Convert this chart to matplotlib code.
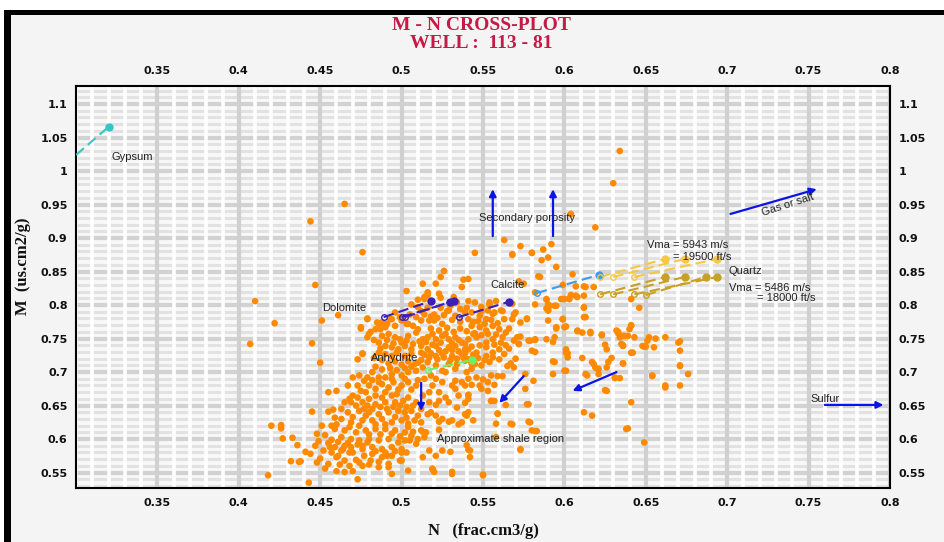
import matplotlib
matplotlib.use('Agg')
import matplotlib.pyplot as plt
from matplotlib.patches import Rectangle
import numpy as np

# ==> DATA: well log points (N, M)
nm_points = [
    (0.465, 0.951), (0.444, 0.925), (0.476, 0.879), (0.447, 0.830), (0.410, 0.806),
    (0.503, 0.821), (0.513, 0.832), (0.521, 0.832), (0.524, 0.842), (0.526, 0.851),
    (0.538, 0.838), (0.541, 0.839), (0.537, 0.827), (0.516, 0.819), (0.523, 0.817),
    (0.514, 0.812), (0.510, 0.808), (0.532, 0.812),
    (0.634, 1.030), (0.630, 0.982), (0.604, 0.936), (0.619, 0.916), (0.563, 0.897),
    (0.573, 0.888), (0.545, 0.878), (0.568, 0.875), (0.580, 0.878), (0.587, 0.883),
    (0.592, 0.891), (0.586, 0.867), (0.590, 0.871), (0.595, 0.857), (0.584, 0.843),
    (0.572, 0.835), (0.575, 0.832), (0.605, 0.846), (0.599, 0.830), (0.607, 0.828),
    (0.612, 0.828), (0.604, 0.815), (0.607, 0.814), (0.603, 0.810), (0.598, 0.809),
    (0.595, 0.799), (0.590, 0.801), (0.589, 0.808), (0.582, 0.801), (0.568, 0.802),
    (0.558, 0.806), (0.554, 0.804), (0.641, 0.809), (0.646, 0.796), (0.589, 0.795),
    (0.422, 0.773), (0.407, 0.742), (0.445, 0.743), (0.451, 0.777), (0.461, 0.785),
    (0.450, 0.714), (0.445, 0.641), (0.420, 0.620), (0.426, 0.621), (0.426, 0.616),
    (0.427, 0.601), (0.433, 0.602), (0.436, 0.591), (0.441, 0.581), (0.444, 0.578),
    (0.432, 0.567), (0.438, 0.567), (0.418, 0.546), (0.443, 0.535), (0.453, 0.556),
    (0.450, 0.571), (0.460, 0.573), (0.460, 0.552), (0.465, 0.551), (0.470, 0.552),
    (0.473, 0.540), (0.476, 0.560), (0.452, 0.583), (0.456, 0.588), (0.448, 0.608),
    (0.453, 0.606), (0.451, 0.620), (0.457, 0.620), (0.459, 0.632), (0.455, 0.641),
    (0.458, 0.644), (0.457, 0.599), (0.465, 0.590), (0.468, 0.580), (0.472, 0.569),
    (0.476, 0.585), (0.481, 0.568), (0.486, 0.558), (0.491, 0.575), (0.492, 0.563),
    (0.499, 0.568), (0.494, 0.548), (0.500, 0.580), (0.504, 0.553), (0.519, 0.556),
    (0.517, 0.583), (0.530, 0.581), (0.531, 0.548), (0.540, 0.591), (0.523, 0.614),
    (0.529, 0.626), (0.535, 0.622), (0.523, 0.626), (0.540, 0.635), (0.513, 0.611),
    (0.507, 0.611), (0.504, 0.618), (0.510, 0.635), (0.518, 0.640), (0.521, 0.651),
    (0.529, 0.655), (0.534, 0.647), (0.539, 0.654), (0.541, 0.666), (0.533, 0.675),
    (0.523, 0.670), (0.519, 0.680), (0.533, 0.687), (0.539, 0.680), (0.527, 0.700),
    (0.533, 0.705),
    (0.479, 0.779), (0.486, 0.772), (0.488, 0.774), (0.490, 0.767), (0.494, 0.779),
    (0.496, 0.769), (0.500, 0.777), (0.504, 0.772), (0.510, 0.764), (0.512, 0.777),
    (0.517, 0.777), (0.520, 0.777), (0.525, 0.772), (0.529, 0.792), (0.533, 0.784),
    (0.539, 0.789), (0.541, 0.779), (0.475, 0.765), (0.481, 0.760), (0.484, 0.764),
    (0.479, 0.752), (0.488, 0.754), (0.492, 0.757), (0.496, 0.752), (0.500, 0.744),
    (0.504, 0.754), (0.509, 0.759), (0.513, 0.749), (0.516, 0.752), (0.521, 0.749),
    (0.525, 0.754), (0.529, 0.749), (0.533, 0.752), (0.537, 0.744), (0.541, 0.749),
    (0.486, 0.744), (0.490, 0.739), (0.494, 0.737), (0.498, 0.734), (0.502, 0.739),
    (0.506, 0.734), (0.512, 0.739), (0.516, 0.734), (0.521, 0.739), (0.524, 0.744),
    (0.529, 0.737), (0.533, 0.739), (0.539, 0.734), (0.476, 0.727), (0.473, 0.719),
    (0.486, 0.729), (0.490, 0.727), (0.494, 0.724), (0.497, 0.729), (0.502, 0.724),
    (0.506, 0.727), (0.512, 0.729), (0.517, 0.722), (0.521, 0.724), (0.525, 0.727),
    (0.531, 0.724), (0.537, 0.727), (0.541, 0.719), (0.513, 0.707), (0.509, 0.702),
    (0.504, 0.700), (0.500, 0.695), (0.494, 0.697), (0.490, 0.692), (0.486, 0.692),
    (0.482, 0.700), (0.479, 0.692), (0.529, 0.712), (0.534, 0.712), (0.539, 0.717),
    (0.521, 0.710), (0.525, 0.702), (0.518, 0.695), (0.521, 0.690), (0.525, 0.685),
    (0.531, 0.680), (0.537, 0.685), (0.541, 0.690), (0.477, 0.687), (0.473, 0.680),
    (0.467, 0.680), (0.470, 0.665), (0.475, 0.672), (0.480, 0.680), (0.484, 0.675),
    (0.488, 0.682), (0.492, 0.677), (0.495, 0.685), (0.500, 0.680), (0.504, 0.685),
    (0.509, 0.680), (0.497, 0.667), (0.494, 0.665), (0.488, 0.662), (0.484, 0.665),
    (0.480, 0.660), (0.476, 0.655), (0.472, 0.650), (0.479, 0.650), (0.484, 0.652),
    (0.490, 0.655), (0.496, 0.655), (0.501, 0.657), (0.504, 0.662), (0.509, 0.655),
    (0.517, 0.655), (0.523, 0.657), (0.527, 0.662), (0.535, 0.665), (0.541, 0.660),
    (0.455, 0.670), (0.460, 0.672), (0.465, 0.655), (0.469, 0.655), (0.467, 0.640),
    (0.474, 0.642), (0.480, 0.640), (0.486, 0.637), (0.492, 0.640), (0.498, 0.642),
    (0.502, 0.640), (0.506, 0.642), (0.516, 0.637), (0.521, 0.635), (0.525, 0.630),
    (0.531, 0.628), (0.537, 0.625), (0.541, 0.640), (0.463, 0.630), (0.469, 0.625),
    (0.476, 0.628), (0.482, 0.628), (0.488, 0.630), (0.494, 0.625), (0.500, 0.628),
    (0.504, 0.623), (0.459, 0.615), (0.465, 0.613), (0.472, 0.610), (0.478, 0.613),
    (0.484, 0.615), (0.490, 0.615), (0.496, 0.613), (0.502, 0.610), (0.506, 0.605),
    (0.512, 0.613), (0.515, 0.610), (0.463, 0.603), (0.469, 0.600), (0.474, 0.598),
    (0.480, 0.600), (0.486, 0.598), (0.492, 0.600), (0.498, 0.595), (0.502, 0.598),
    (0.509, 0.593), (0.459, 0.588), (0.464, 0.585), (0.469, 0.588), (0.476, 0.590),
    (0.482, 0.588), (0.488, 0.585), (0.494, 0.588), (0.500, 0.585), (0.503, 0.580),
    (0.513, 0.573), (0.521, 0.575), (0.525, 0.583), (0.461, 0.575), (0.465, 0.568),
    (0.470, 0.580), (0.477, 0.575), (0.482, 0.578), (0.488, 0.573), (0.494, 0.575),
    (0.500, 0.568),
    (0.561, 0.792), (0.570, 0.789), (0.568, 0.779), (0.577, 0.780), (0.590, 0.792),
    (0.594, 0.799), (0.590, 0.777), (0.599, 0.779), (0.595, 0.765), (0.601, 0.768),
    (0.612, 0.797), (0.612, 0.782), (0.608, 0.762), (0.611, 0.759), (0.616, 0.760),
    (0.623, 0.755), (0.633, 0.760), (0.636, 0.754), (0.634, 0.752), (0.640, 0.764),
    (0.641, 0.770), (0.639, 0.754), (0.643, 0.752), (0.636, 0.740), (0.651, 0.747),
    (0.649, 0.738), (0.656, 0.750), (0.662, 0.752), (0.671, 0.746), (0.671, 0.732),
    (0.671, 0.709), (0.676, 0.697), (0.671, 0.680), (0.662, 0.677), (0.654, 0.694),
    (0.642, 0.729), (0.626, 0.734), (0.629, 0.721), (0.627, 0.715), (0.636, 0.713),
    (0.631, 0.691), (0.634, 0.691), (0.625, 0.673), (0.641, 0.655), (0.639, 0.616),
    (0.649, 0.595), (0.617, 0.715), (0.620, 0.705), (0.621, 0.697), (0.614, 0.695),
    (0.611, 0.721), (0.601, 0.734), (0.602, 0.728), (0.593, 0.716), (0.593, 0.697),
    (0.601, 0.702), (0.612, 0.640), (0.617, 0.635), (0.578, 0.747), (0.582, 0.748),
    (0.580, 0.732), (0.572, 0.742), (0.573, 0.753), (0.566, 0.735), (0.570, 0.720),
    (0.569, 0.707), (0.565, 0.709), (0.562, 0.694), (0.559, 0.694), (0.555, 0.695),
    (0.557, 0.681), (0.553, 0.685), (0.550, 0.689), (0.548, 0.680), (0.549, 0.675),
    (0.553, 0.672), (0.543, 0.681), (0.541, 0.666), (0.555, 0.657), (0.557, 0.657),
    (0.564, 0.651), (0.559, 0.638), (0.558, 0.623), (0.568, 0.622), (0.578, 0.652),
    (0.578, 0.626), (0.580, 0.613), (0.583, 0.612), (0.576, 0.675), (0.581, 0.687),
    (0.576, 0.697), (0.573, 0.584), (0.541, 0.584), (0.542, 0.573), (0.550, 0.547),
    (0.544, 0.628), (0.539, 0.637), (0.558, 0.603), (0.564, 0.759), (0.560, 0.764),
    (0.556, 0.769), (0.552, 0.762), (0.548, 0.767), (0.543, 0.769), (0.546, 0.752),
    (0.552, 0.744), (0.556, 0.749), (0.560, 0.734), (0.556, 0.729), (0.552, 0.724),
    (0.546, 0.729), (0.541, 0.734), (0.543, 0.705), (0.549, 0.710), (0.554, 0.715),
    (0.560, 0.719), (0.541, 0.719), (0.546, 0.692), (0.540, 0.700), (0.548, 0.784),
    (0.552, 0.779), (0.543, 0.789), (0.556, 0.787), (0.593, 0.745), (0.589, 0.749),
    (0.568, 0.876), (0.580, 0.878), (0.514, 0.809), (0.524, 0.811), (0.516, 0.815),
    (0.476, 0.728), (0.479, 0.780), (0.475, 0.767), (0.480, 0.757), (0.485, 0.774),
    (0.487, 0.764), (0.491, 0.772), (0.493, 0.779), (0.496, 0.789), (0.499, 0.782),
    (0.503, 0.772), (0.507, 0.769), (0.512, 0.791), (0.516, 0.796), (0.520, 0.786),
    (0.524, 0.796), (0.528, 0.791), (0.534, 0.804), (0.540, 0.796), (0.545, 0.804),
    (0.549, 0.791), (0.554, 0.801), (0.557, 0.789), (0.562, 0.791), (0.569, 0.786),
    (0.577, 0.779), (0.573, 0.774), (0.582, 0.749), (0.571, 0.752), (0.579, 0.747),
    (0.582, 0.730), (0.572, 0.835), (0.582, 0.819), (0.585, 0.842), (0.589, 0.809),
    (0.591, 0.799), (0.590, 0.792), (0.600, 0.809), (0.603, 0.809), (0.608, 0.812),
    (0.612, 0.814), (0.613, 0.827), (0.618, 0.827), (0.612, 0.796), (0.613, 0.782),
    (0.599, 0.779), (0.595, 0.767), (0.600, 0.767), (0.594, 0.752), (0.601, 0.729),
    (0.602, 0.722), (0.608, 0.761), (0.616, 0.758), (0.623, 0.756), (0.633, 0.758),
    (0.641, 0.769), (0.637, 0.754), (0.650, 0.738), (0.652, 0.752), (0.632, 0.762),
    (0.625, 0.741), (0.635, 0.742), (0.641, 0.729), (0.619, 0.707), (0.636, 0.713),
    (0.569, 0.747), (0.572, 0.742), (0.613, 0.697), (0.621, 0.705), (0.618, 0.712),
    (0.626, 0.707), (0.631, 0.692), (0.626, 0.672), (0.638, 0.615), (0.654, 0.695),
    (0.671, 0.710), (0.662, 0.680), (0.670, 0.744), (0.655, 0.737), (0.636, 0.739),
    (0.648, 0.739), (0.594, 0.715), (0.600, 0.702), (0.577, 0.652), (0.579, 0.625),
    (0.582, 0.612), (0.573, 0.585), (0.567, 0.623), (0.559, 0.638), (0.555, 0.657),
    (0.550, 0.546), (0.542, 0.583), (0.531, 0.551), (0.519, 0.555), (0.520, 0.551),
    (0.437, 0.566),
    # dense core
    (0.518, 0.765), (0.523, 0.762), (0.528, 0.766), (0.532, 0.760), (0.536, 0.765),
    (0.540, 0.761), (0.544, 0.757), (0.519, 0.757), (0.527, 0.757), (0.531, 0.743),
    (0.535, 0.748), (0.539, 0.742), (0.543, 0.738), (0.515, 0.745), (0.519, 0.741),
    (0.523, 0.733), (0.527, 0.731), (0.531, 0.733), (0.535, 0.731), (0.539, 0.728),
    (0.544, 0.726), (0.514, 0.726), (0.518, 0.728), (0.522, 0.719), (0.526, 0.722),
    (0.530, 0.718), (0.534, 0.720), (0.538, 0.722), (0.543, 0.713),
    (0.547, 0.776), (0.551, 0.772), (0.555, 0.778), (0.559, 0.773), (0.563, 0.779),
    (0.545, 0.758), (0.549, 0.755), (0.553, 0.757), (0.558, 0.756), (0.562, 0.752),
    (0.566, 0.765), (0.548, 0.740), (0.552, 0.737), (0.557, 0.741), (0.561, 0.744),
    (0.564, 0.740), (0.547, 0.721), (0.551, 0.718), (0.556, 0.722), (0.563, 0.727),
    (0.567, 0.713), (0.545, 0.712),
    (0.483, 0.748), (0.487, 0.735), (0.491, 0.748), (0.495, 0.743), (0.499, 0.749),
    (0.503, 0.747), (0.507, 0.742), (0.511, 0.746), (0.483, 0.721), (0.488, 0.718),
    (0.492, 0.713), (0.496, 0.716), (0.500, 0.711), (0.504, 0.716), (0.508, 0.712),
    (0.512, 0.718), (0.484, 0.708), (0.488, 0.704), (0.493, 0.706), (0.497, 0.703),
    (0.502, 0.706), (0.506, 0.708), (0.510, 0.714), (0.516, 0.715),
    (0.470, 0.692), (0.474, 0.695), (0.478, 0.670), (0.482, 0.688), (0.486, 0.685),
    (0.490, 0.670), (0.494, 0.690), (0.498, 0.674), (0.502, 0.690), (0.506, 0.674),
    (0.510, 0.688), (0.514, 0.690), (0.517, 0.670), (0.513, 0.665), (0.468, 0.660),
    (0.473, 0.662), (0.477, 0.645), (0.482, 0.645), (0.487, 0.648), (0.491, 0.645),
    (0.495, 0.648), (0.499, 0.650), (0.503, 0.648), (0.507, 0.650), (0.512, 0.645),
    (0.463, 0.645), (0.470, 0.633), (0.478, 0.635), (0.484, 0.622), (0.490, 0.622),
    (0.496, 0.633), (0.503, 0.632), (0.508, 0.628), (0.512, 0.625), (0.460, 0.622),
    (0.468, 0.618), (0.474, 0.620), (0.480, 0.607), (0.487, 0.607), (0.494, 0.608),
    (0.499, 0.604), (0.505, 0.598), (0.510, 0.600), (0.514, 0.603),
    (0.455, 0.594), (0.461, 0.596), (0.467, 0.594), (0.473, 0.592), (0.479, 0.595),
    (0.484, 0.582), (0.490, 0.580), (0.496, 0.582), (0.457, 0.580), (0.463, 0.583),
    (0.455, 0.563), (0.462, 0.562), (0.468, 0.560), (0.474, 0.565), (0.480, 0.562),
    (0.486, 0.566), (0.492, 0.558), (0.448, 0.565), (0.447, 0.590), (0.449, 0.597),
    (0.505, 0.786), (0.509, 0.782), (0.514, 0.786), (0.518, 0.783), (0.522, 0.781),
    (0.526, 0.785), (0.531, 0.778), (0.536, 0.775), (0.544, 0.775), (0.549, 0.797),
    (0.553, 0.792), (0.506, 0.801), (0.510, 0.797), (0.530, 0.799), (0.536, 0.794),
    (0.541, 0.806),
]
n_vals = [p[0] for p in nm_points]
m_vals = [p[1] for p in nm_points]

# ==> MINERAL POINTS / LINES (start, end)
gypsum_line = [(0.300, 1.024), (0.320, 1.066)]
dolomite_lines = [[(0.489, 0.782), (0.518, 0.806)],
                  [(0.500, 0.782), (0.532, 0.806)],
                  [(0.502, 0.782), (0.530, 0.805)],
                  [(0.535, 0.782), (0.566, 0.805)]]
calcite_line = [(0.583, 0.818), (0.621, 0.845)]
anhydrite_line = [(0.516, 0.703), (0.543, 0.718)]
quartz_fast = [[(0.622, 0.842), (0.662, 0.869)],
               [(0.630, 0.842), (0.674, 0.869)],
               [(0.643, 0.842), (0.694, 0.869)]]
quartz_slow = [[(0.622, 0.816), (0.662, 0.842)],
               [(0.630, 0.816), (0.674, 0.842)],
               [(0.650, 0.815), (0.687, 0.842)],
               [(0.643, 0.816), (0.694, 0.842)]]

# ==> ARROWS (tail, head)
arrows = [[(0.702, 0.936), (0.755, 0.973)],
          [(0.556, 0.903), (0.556, 0.973)],
          [(0.593, 0.903), (0.593, 0.973)],
          [(0.512, 0.684), (0.512, 0.642)],
          [(0.575, 0.694), (0.560, 0.654)],
          [(0.632, 0.700), (0.605, 0.672)],
          [(0.760, 0.651), (0.796, 0.651)]]

x_ticks = [0.35, 0.4, 0.45, 0.5, 0.55, 0.6, 0.65, 0.7, 0.75, 0.8]
y_ticks = [0.55, 0.6, 0.65, 0.7, 0.75, 0.8, 0.85, 0.9, 0.95, 1.0, 1.05, 1.1]

W, H = 944, 542
fig = plt.figure(figsize=(W / 100, H / 100), dpi=100, facecolor='white')

## ==> FRAME
fig.patches.append(Rectangle((4 / W, 0), 1, 1 - 10 / H, transform=fig.transFigure,
                             facecolor='black', edgecolor='none', zorder=-10))
fig.patches.append(Rectangle((11 / W, 0), 1, 1 - 15 / H, transform=fig.transFigure,
                             facecolor='#f4f4f4', edgecolor='none', zorder=-9))

ax = fig.add_axes([76 / W, 54 / H, 814 / W, 402 / H])
ax.set_facecolor('#f8f8f8')
ax.set_xlim(0.30, 0.80)
ax.set_ylim(0.527, 1.127)

## ==> GRID
for yv in np.arange(0.53, 1.13, 0.01):
    ax.axhline(yv, color='#e2e2e2', lw=2.2, zorder=0.5)
for xv in np.arange(0.30, 0.80, 0.01):
    ax.axvline(xv, color='white', lw=2.6, zorder=0.7)
for yv in np.arange(0.55, 1.13, 0.05):
    ax.axhline(yv, color='#d2d2d2', lw=3, zorder=0.6)
for xv in x_ticks:
    ax.axvline(xv, color='#d0d0d0', lw=3, zorder=0.8)

## ==> DATA POINTS
ax.scatter(n_vals, m_vals, s=23, color='#ff8a00', edgecolors='none', zorder=3)

## ==> MINERAL LINES
def mineral(line, color, lw=1.5):
    (x0, y0), (x1, y1) = line
    ax.plot([x0, x1], [y0, y1], color=color, lw=lw, dashes=(5, 2.5), zorder=4)
    ax.plot([x0], [y0], 'o', ms=4, mfc='none', mec=color, mew=1, zorder=5)
    ax.plot([x1], [y1], 'o', ms=5, color=color, zorder=5)

ax.plot(*zip(*gypsum_line), color='#33c6c6', lw=1.5, dashes=(5, 2.5), zorder=4)
ax.plot([gypsum_line[1][0]], [gypsum_line[1][1]], 'o', ms=5, color='#33c6c6', zorder=5)
for ln in dolomite_lines:
    mineral(ln, '#3a1fb8')
mineral(calcite_line, '#3d9bf0')
mineral(anhydrite_line, '#6cf06c')
for ln in quartz_fast:
    mineral(ln, '#f7c843')
for ln in quartz_slow:
    mineral(ln, '#c9a024')

for (tail, head) in arrows:
    ax.annotate('', xy=head, xytext=tail,
                arrowprops=dict(arrowstyle='-|>', color='#0a14e6', lw=1.6,
                                mutation_scale=10, shrinkA=0, shrinkB=0), zorder=6)

## ==> LABELS
tk = dict(fontsize=8, color='#222222', family='Liberation Sans', zorder=7)
ax.text(0.322, 1.021, 'Gypsum', ha='left', va='center', **tk)
ax.text(0.465, 0.796, 'Dolomite', ha='center', va='center', **tk)
ax.text(0.565, 0.830, 'Calcite', ha='center', va='center', **tk)
ax.text(0.496, 0.721, 'Anhydrite', ha='center', va='center', **tk)
ax.text(0.577, 0.930, 'Secondary porosity', ha='center', va='center', **tk)
ax.text(0.561, 0.600, 'Approximate shale region', ha='center', va='center', **tk)
ax.text(0.760, 0.660, 'Sulfur', ha='center', va='center', **tk)
ax.text(0.737, 0.949, 'Gas or salt', ha='center', va='center', rotation=18, **tk)
ax.text(0.651, 0.889, 'Vma = 5943 m/s', ha='left', va='center', **tk)
ax.text(0.667, 0.872, '= 19500 ft/s', ha='left', va='center', **tk)
ax.text(0.701, 0.851, 'Quartz', ha='left', va='center', **tk)
ax.text(0.701, 0.825, 'Vma = 5486 m/s', ha='left', va='center', **tk)
ax.text(0.718, 0.810, '= 18000 ft/s', ha='left', va='center', **tk)

## ==> AXES
ax.set_xticks(x_ticks)
ax.set_xticklabels(['%g' % v for v in x_ticks])
ax.set_yticks(y_ticks)
ax.set_yticklabels(['%g' % v for v in y_ticks])
ax.tick_params(axis='both', which='both', length=0, top=True, right=True,
               labeltop=True, labelright=True, labelsize=8, labelcolor='#111111')
ax.tick_params(axis='x', pad=7)
ax.tick_params(axis='y', pad=6)
for lab in ax.get_xticklabels() + ax.get_yticklabels():
    lab.set_fontweight('bold')
for sp in ax.spines.values():
    sp.set_linewidth(1.5)
    sp.set_color('black')

fig.text(481 / W, 1 - 25 / H, 'M - N CROSS-PLOT', ha='center', va='center',
         family='Liberation Serif', fontweight='bold', fontsize=14, color='#c41a45')
fig.text(481 / W, 1 - 44 / H, 'WELL :  113 - 81', ha='center', va='center',
         family='Liberation Serif', fontweight='bold', fontsize=14, color='#c41a45')
fig.text(483 / W, 1 - 531 / H, 'N   (frac.cm3/g)', ha='center', va='center',
         family='Liberation Serif', fontweight='bold', fontsize=12, color='#111111')
fig.text(23 / W, 1 - 266 / H, 'M  (us.cm2/g)', ha='center', va='center', rotation=90,
         family='Liberation Serif', fontweight='bold', fontsize=12, color='#111111')

fig.savefig('out.png', dpi=100, facecolor=fig.get_facecolor())
